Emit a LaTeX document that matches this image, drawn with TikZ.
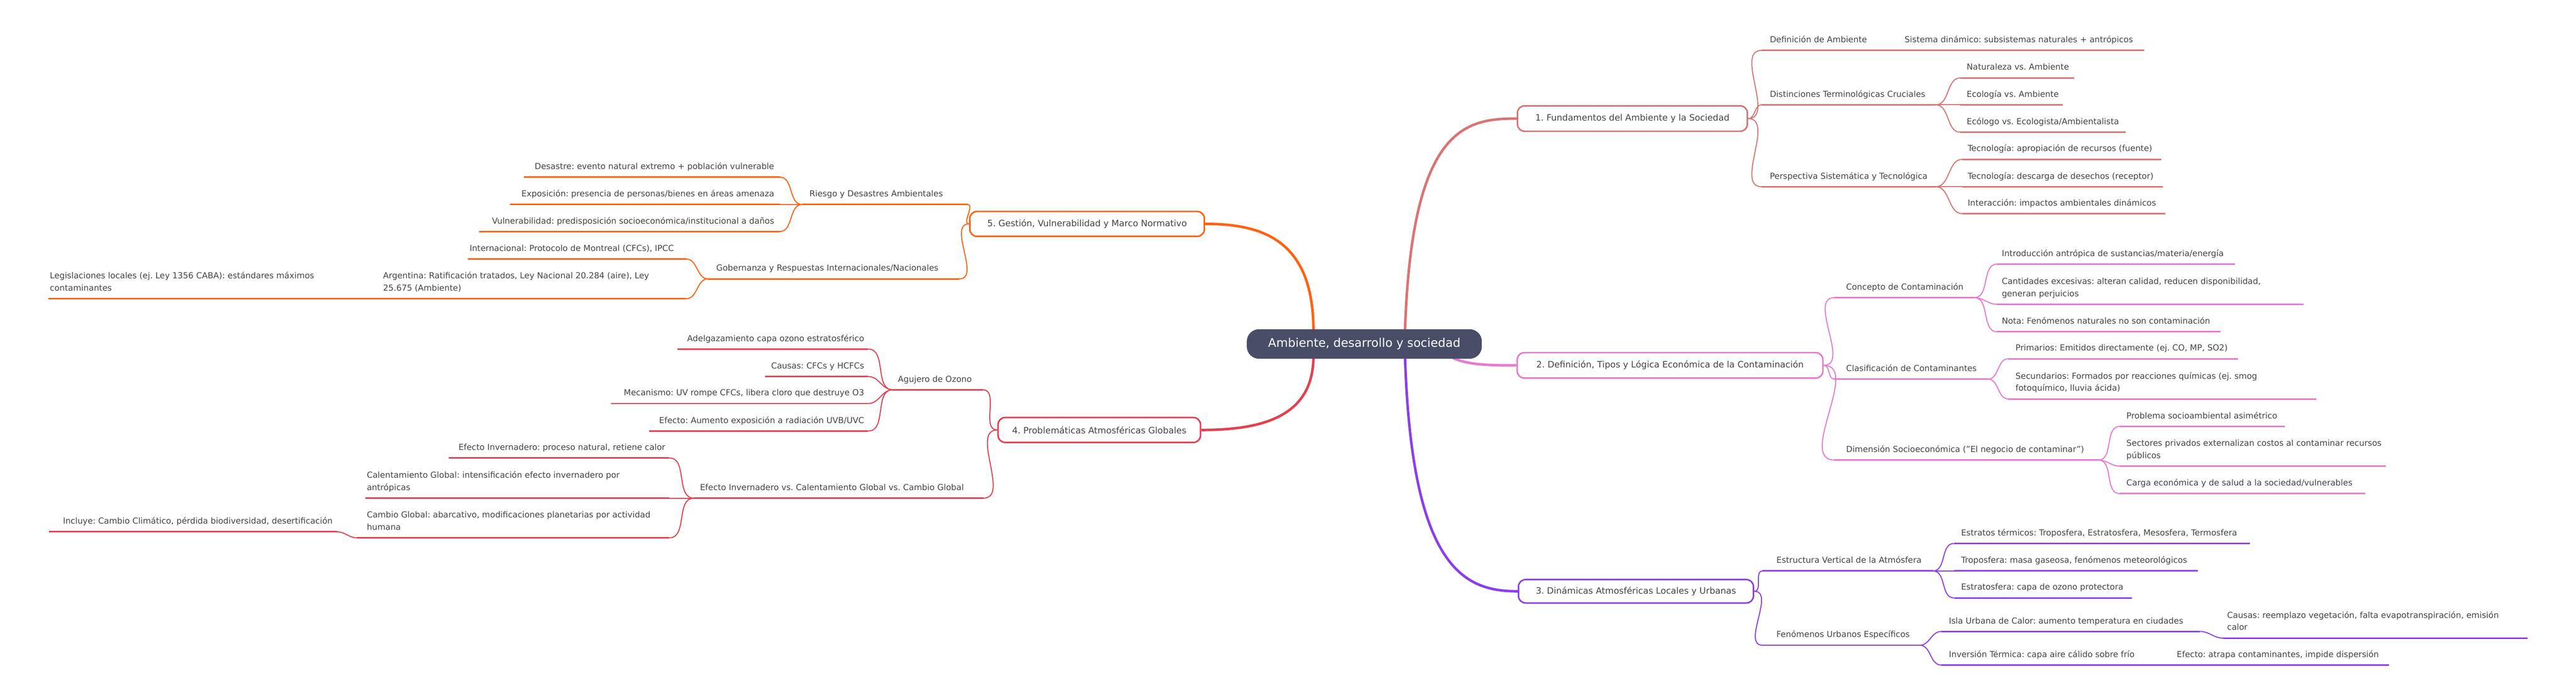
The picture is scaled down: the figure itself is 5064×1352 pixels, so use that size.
\documentclass[tikz,border=0pt]{standalone}
\usepackage{fontspec}
\setmainfont{DejaVu Sans}
\frenchspacing
\definecolor{ca}{HTML}{D97473}
\definecolor{cb}{HTML}{E879CF}
\definecolor{cc}{HTML}{8B3FE8}
\definecolor{cd}{HTML}{E2414F}
\definecolor{ce}{HTML}{FF6210}
\definecolor{rootc}{HTML}{4A4D68}
\definecolor{txt}{HTML}{444444}
\newcommand\lf{\fontsize{16.3}{24}\selectfont\frenchspacing}
\newcommand\ulx[5]{\coordinate (#1-l) at (#2,#4);\coordinate (#1-r) at (#3,#4);\draw[ul,#5] (#1-l) -- (#1-r);}
\newcommand\tlx[4]{\node[lbl,anchor=south west] (#1) at (#2,#3-8) {#4\strut};}
\newcommand\trx[4]{\node[lbl,anchor=south east] (#1) at (#2,#3-8) {#4\strut};}
\newcommand\cnr[3]{\draw[cn,#3] (#1) to[out=0,in=180] (#2);}
\newcommand\cnl[3]{\draw[cn,#3] (#1) to[out=180,in=0] (#2);}
\begin{document}
\begin{tikzpicture}[x=1pt,y=-1pt,
  ul/.style={line width=3pt},
  cn/.style={line width=2pt},
  main/.style={line width=5pt},
  lbl/.style={font=\lf,text=txt,inner sep=0pt,align=left},
  bt/.style={text=txt,font=\fontsize{17.3}{20}\selectfont\frenchspacing},
  box/.style={draw=#1,line width=3pt,fill=white,rounded corners=14pt,inner sep=0pt}]
\useasboundingbox (0,0) rectangle (5064,1352);
\fill[white] (0,0) rectangle (5064,1352);
% main connectors
\coordinate (r1) at (2762,650);
\coordinate (r5) at (2582,650);
\coordinate (r2) at (2850,700);
\coordinate (r3) at (2762,700);
\coordinate (r4) at (2582,700);
\node[box=ca,minimum width=452pt,minimum height=50pt] (b1) at (3209,233) {};
\node[box=cb,minimum width=601pt,minimum height=50pt] (b2) at (3283,718) {};
\node[box=cc,minimum width=462pt,minimum height=46pt] (b3) at (3216,1162) {};
\node[box=cd,minimum width=398pt,minimum height=49pt] (b4) at (2161,845) {};
\node[box=ce,minimum width=461pt,minimum height=49pt] (b5) at (2137,440) {};
\draw[main,ca] (r1) .. controls (2775,250) and (2880,233) .. (b1.west);
\draw[main,ce] (r5) .. controls (2582,470) and (2480,440) .. (b5.east);
\draw[main,cb] (r2) .. controls (2880,718) and (2930,718) .. (b2.west);
\draw[main,cc] (r3) .. controls (2775,1120) and (2880,1162) .. (b3.west);
\draw[main,cd] (r4) .. controls (2582,820) and (2480,845) .. (b4.east);
% ---------- branch 1
\ulx{def}{3463}{3725}{99}{ca}\ulx{sis}{3725}{4215}{99}{ca}
\ulx{dis}{3463}{3805}{206}{ca}
\ulx{nat}{3854}{4077}{153}{ca}\ulx{eco}{3854}{4055}{206}{ca}\ulx{ecg}{3854}{4179}{260}{ca}
\ulx{per}{3463}{3805}{367}{ca}
\ulx{tap}{3858}{4249}{313}{ca}\ulx{tde}{3858}{4252}{367}{ca}\ulx{int}{3858}{4257}{420}{ca}
\cnr{b1.east}{def-l}{ca}\cnr{b1.east}{dis-l}{ca}\cnr{b1.east}{per-l}{ca}
\cnr{dis-r}{nat-l}{ca}\cnr{dis-r}{eco-l}{ca}\cnr{dis-r}{ecg-l}{ca}
\cnr{per-r}{tap-l}{ca}\cnr{per-r}{tde-l}{ca}\cnr{per-r}{int-l}{ca}
\tlx{tdef}{3479}{99}{Definición de Ambiente}
\tlx{tsis}{3744}{99}{Sistema dinámico: subsistemas naturales + antrópicos}
\tlx{tdis}{3479}{206}{Distinciones Terminológicas Cruciales}
\tlx{tnat}{3866}{153}{Naturaleza vs. Ambiente}
\tlx{teco}{3866}{206}{Ecología vs. Ambiente}
\tlx{tecg}{3866}{260}{Ecólogo vs. Ecologista/Ambientalista}
\tlx{tper}{3479}{367}{Perspectiva Sistemática y Tecnológica}
\tlx{ttap}{3868}{313}{Tecnología: apropiación de recursos (fuente)}
\tlx{ttde}{3868}{367}{Tecnología: descarga de desechos (receptor)}
\tlx{tint}{3868}{420}{Interacción: impactos ambientales dinámicos}
% ---------- branch 2
\ulx{con}{3606}{3881}{585}{cb}
\ulx{intro}{3926}{4393}{519}{cb}\ulx{cant}{3926}{4528}{598}{cb}\ulx{nota}{3926}{4365}{652}{cb}
\ulx{cla}{3606}{3908}{745}{cb}
\ulx{pri}{3948}{4400}{705}{cb}\ulx{sec}{3948}{4553}{784}{cb}
\ulx{dim}{3606}{4125}{904}{cb}
\ulx{prob}{4167}{4492}{838}{cb}\ulx{sect}{4167}{4690}{916}{cb}\ulx{carg}{4167}{4650}{970}{cb}
\cnr{b2.east}{con-l}{cb}\cnr{b2.east}{cla-l}{cb}\cnr{b2.east}{dim-l}{cb}
\cnr{con-r}{intro-l}{cb}\cnr{con-r}{cant-l}{cb}\cnr{con-r}{nota-l}{cb}
\cnr{cla-r}{pri-l}{cb}\cnr{cla-r}{sec-l}{cb}
\cnr{dim-r}{prob-l}{cb}\cnr{dim-r}{sect-l}{cb}\cnr{dim-r}{carg-l}{cb}
\tlx{tcon}{3629}{585}{Concepto de Contaminación}
\tlx{tintro}{3935}{519}{Introducción antrópica de sustancias/materia/energía}
\tlx{tcant}{3935}{598}{Cantidades excesivas: alteran calidad, reducen disponibilidad,\\generan perjuicios}
\tlx{tnota}{3935}{652}{Nota: Fenómenos naturales no son contaminación}
\tlx{tcla}{3629}{745}{Clasificación de Contaminantes}
\tlx{tpri}{3962}{705}{Primarios: Emitidos directamente (ej. CO, MP, SO2)}
\tlx{tsec}{3962}{784}{Secundarios: Formados por reacciones químicas (ej. smog\\fotoquímico, lluvia ácida)}
\tlx{tdim}{3629}{904}{Dimensión Socioeconómica ("El negocio de contaminar")}
\tlx{tprob}{4180}{838}{Problema socioambiental asimétrico}
\tlx{tsect}{4180}{916}{Sectores privados externalizan costos al contaminar recursos\\públicos}
\tlx{tcarg}{4180}{970}{Carga económica y de salud a la sociedad/vulnerables}
% ---------- branch 3
\ulx{est}{3465}{3800}{1122}{cc}
\ulx{etr}{3841}{4423}{1068}{cc}\ulx{tro}{3841}{4321}{1122}{cc}\ulx{estr}{3841}{4191}{1175}{cc}
\ulx{fen}{3465}{3774}{1268}{cc}
\ulx{isla}{3816}{4325}{1241}{cc}\ulx{caus}{4370}{4969}{1254}{cc}
\ulx{inv}{3816}{4260}{1307}{cc}\ulx{efe}{4260}{4696}{1307}{cc}
\cnr{b3.east}{est-l}{cc}\cnr{b3.east}{fen-l}{cc}
\cnr{est-r}{etr-l}{cc}\cnr{est-r}{tro-l}{cc}\cnr{est-r}{estr-l}{cc}
\cnr{fen-r}{isla-l}{cc}\cnr{fen-r}{inv-l}{cc}
\cnr{isla-r}{caus-l}{cc}
\tlx{test}{3492}{1122}{Estructura Vertical de la Atmósfera}
\tlx{tetr}{3855}{1068}{Estratos térmicos: Troposfera, Estratosfera, Mesosfera, Termosfera}
\tlx{ttro}{3855}{1122}{Troposfera: masa gaseosa, fenómenos meteorológicos}
\tlx{testr}{3855}{1175}{Estratosfera: capa de ozono protectora}
\tlx{tfen}{3492}{1268}{Fenómenos Urbanos Específicos}
\tlx{tisla}{3831}{1241}{Isla Urbana de Calor: aumento temperatura en ciudades}
\tlx{tcaus}{4378}{1254}{Causas: reemplazo vegetación, falta evapotranspiración, emisión\\calor}
\tlx{tinv}{3831}{1307}{Inversión Térmica: capa aire cálido sobre frío}
\tlx{tefe}{4279}{1307}{Efecto: atrapa contaminantes, impide dispersión}
% ---------- branch 4
\ulx{agu}{1755}{1932}{766}{cd}
\ulx{adel}{1332}{1707}{686}{cd}\ulx{cau}{1504}{1707}{740}{cd}\ulx{mec}{1201}{1707}{793}{cd}\ulx{efu}{1276}{1707}{847}{cd}
\ulx{inve}{1364}{1933}{979}{cd}
\ulx{ein}{882}{1316}{900}{cd}\ulx{cal}{718}{1316}{979}{cd}\ulx{cam}{702}{1316}{1057}{cd}
\ulx{inc}{96}{662}{1045}{cd}
\cnl{b4.west}{agu-r}{cd}\cnl{b4.west}{inve-r}{cd}
\cnl{agu-l}{adel-r}{cd}\cnl{agu-l}{cau-r}{cd}\cnl{agu-l}{mec-r}{cd}\cnl{agu-l}{efu-r}{cd}
\cnl{inve-l}{ein-r}{cd}\cnl{inve-l}{cal-r}{cd}\cnl{inve-l}{cam-r}{cd}
\cnl{cam-l}{inc-r}{cd}
\tlx{tagu}{1765}{766}{Agujero de Ozono}
\trx{tadel}{1699}{686}{Adelgazamiento capa ozono estratosférico}
\trx{tcau}{1699}{740}{Causas: CFCs y HCFCs}
\trx{tmec}{1699}{793}{Mecanismo: UV rompe CFCs, libera cloro que destruye O3}
\trx{tefu}{1699}{847}{Efecto: Aumento exposición a radiación UVB/UVC}
\tlx{tinve}{1376}{979}{Efecto Invernadero vs. Calentamiento Global vs. Cambio Global}
\trx{tein}{1308}{900}{Efecto Invernadero: proceso natural, retiene calor}
\tlx{tcal}{721}{979}{Calentamiento Global: intensificación efecto invernadero por\\antrópicas}
\tlx{tcam}{721}{1057}{Cambio Global: abarcativo, modificaciones planetarias por actividad\\humana}
\trx{tinc}{654}{1045}{Incluye: Cambio Climático, pérdida biodiversidad, desertificación}
% ---------- branch 5
\ulx{rie}{1577}{1902}{402}{ce}
\ulx{des}{1030}{1533}{348}{ce}\ulx{exp}{1003}{1533}{402}{ce}\ulx{vul}{942}{1533}{455}{ce}
\ulx{gob}{1392}{1886}{548}{ce}
\ulx{inter}{920}{1349}{509}{ce}\ulx{arg}{740}{1349}{587}{ce}
\ulx{leg}{95}{740}{587}{ce}
\cnl{b5.west}{rie-r}{ce}\cnl{b5.west}{gob-r}{ce}
\cnl{rie-l}{des-r}{ce}\cnl{rie-l}{exp-r}{ce}\cnl{rie-l}{vul-r}{ce}
\cnl{gob-l}{inter-r}{ce}\cnl{gob-l}{arg-r}{ce}
\tlx{trie}{1591}{402}{Riesgo y Desastres Ambientales}
\trx{tdes}{1522}{348}{Desastre: evento natural extremo + población vulnerable}
\trx{texp}{1522}{402}{Exposición: presencia de personas/bienes en áreas amenaza}
\trx{tvul}{1522}{455}{Vulnerabilidad: predisposición socioeconómica/institucional a daños}
\tlx{tgob}{1408}{548}{Gobernanza y Respuestas Internacionales/Nacionales}
\tlx{tinter}{923}{509}{Internacional: Protocolo de Montreal (CFCs), IPCC}
\tlx{targ}{753}{587}{Argentina: Ratificación tratados, Ley Nacional 20.284 (aire), Ley\\25.675 (Ambiente)}
\tlx{tleg}{98}{587}{Legislaciones locales (ej. Ley 1356 CABA): estándares máximos\\contaminantes}
% ---------- box texts and root
\node[bt] at (b1) {1. Fundamentos del Ambiente y la Sociedad};
\node[bt] at (b2) {2. Definición, Tipos y Lógica Económica de la Contaminación};
\node[bt] at (b3) {3. Dinámicas Atmosféricas Locales y Urbanas};
\node[bt] at (b4) {4. Problemáticas Atmosféricas Globales};
\node[bt] at (b5) {5. Gestión, Vulnerabilidad y Marco Normativo};
\node[fill=rootc,text=white,rounded corners=24pt,minimum width=462pt,minimum height=58pt,inner sep=0pt,font=\fontsize{23.5}{26}\selectfont] (root) at (2682,676) {Ambiente, desarrollo y sociedad};
\end{tikzpicture}
\end{document}
